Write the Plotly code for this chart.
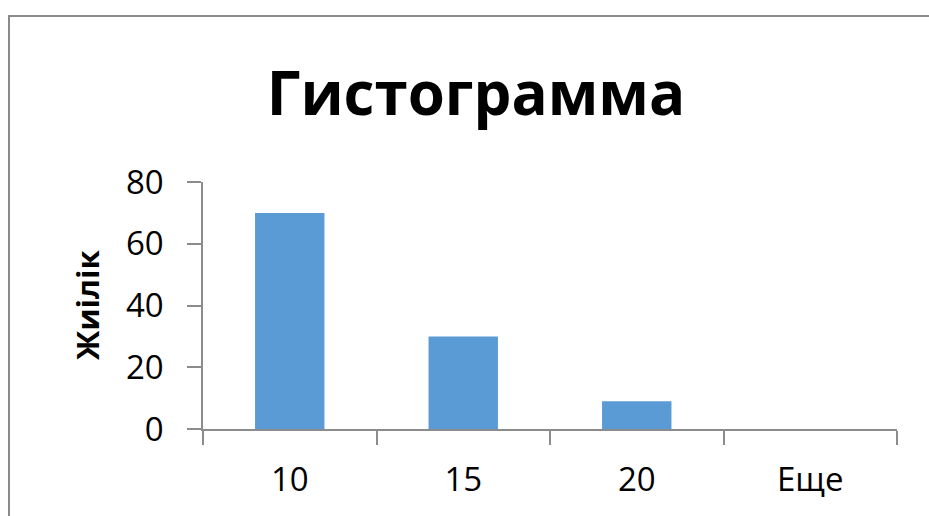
import plotly.graph_objects as go

categories = ["10", "15", "20", "Еще"]
frequencies = [70, 30, 9, 0]
y_ticks = [0, 20, 40, 60, 80]

title_text = "Гистограмма"
y_title = "Жиілік"

L, R, T, B = 203, 32, 182, 87
W, H = 929, 516
pw, ph = W - L - R, H - T - B

def px_to_paper_x(px):
    return (px - L) / pw

def px_to_paper_y(py):
    return (H - B - py) / ph

axis_color = "#8c8c8c"
font_family = "Open Sans, Noto Sans, sans-serif"

fig = go.Figure(
    go.Bar(
        x=categories,
        y=frequencies,
        marker=dict(color="#5B9BD5", line=dict(width=0)),
    )
)

fig.update_layout(
    width=W,
    height=H,
    margin=dict(l=L, r=R, t=T, b=B),
    paper_bgcolor="white",
    plot_bgcolor="white",
    bargap=0.6,
    showlegend=False,
    title=dict(
        text=title_text,
        x=476 / W,
        xanchor="center",
        xref="container",
        y=1 - 94 / H,
        yanchor="middle",
        yref="container",
        font=dict(family=font_family, size=60, color="black", weight="bold"),
    ),
    font=dict(family=font_family, color="black"),
)

fig.update_xaxes(
    type="category",
    showline=True,
    linecolor=axis_color,
    linewidth=1.5,
    ticks="outside",
    tickson="boundaries",
    ticklen=14,
    tickcolor=axis_color,
    tickwidth=1.5,
    showgrid=False,
    tickfont=dict(size=33, family=font_family, color="black"),
    ticklabelstandoff=21,
)

fig.update_yaxes(
    range=[0, 80],
    tickvals=y_ticks,
    showline=True,
    linecolor=axis_color,
    linewidth=1.5,
    ticks="outside",
    ticklen=14,
    tickcolor=axis_color,
    tickwidth=1.5,
    showgrid=False,
    zeroline=False,
    tickfont=dict(size=33, family=font_family, color="black"),
    ticklabelstandoff=17,
)

fig.add_annotation(
    text=y_title,
    textangle=-90,
    xref="paper",
    yref="paper",
    x=px_to_paper_x(87),
    y=px_to_paper_y(305),
    xanchor="center",
    yanchor="middle",
    showarrow=False,
    font=dict(family=font_family, size=31, color="black", weight="bold"),
)

# chart area border (extends beyond the visible window on the right and bottom)
fig.add_shape(
    type="rect",
    xref="paper",
    yref="paper",
    x0=px_to_paper_x(9),
    x1=px_to_paper_x(960),
    y0=px_to_paper_y(560),
    y1=px_to_paper_y(16),
    line=dict(color="#8a8a8a", width=2),
    fillcolor="rgba(0,0,0,0)",
    layer="below",
)

fig.write_html("out.html")
